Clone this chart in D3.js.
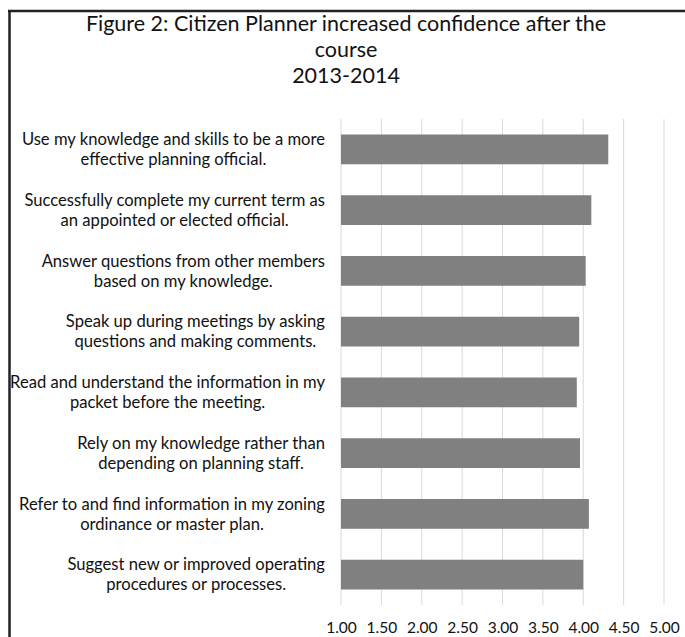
<!DOCTYPE html>
<html>
<head>
<meta charset="utf-8">
<script src="https://cdn.jsdelivr.net/npm/d3@7/dist/d3.min.js"></script>
<style>
  html, body { margin: 0; padding: 0; background: #fff; }
  svg { display: block; }
  text { font-family: Lato, "Open Sans", sans-serif; fill: #111; }
</style>
</head>
<body>
<svg id="chart" width="685" height="637"></svg>
<script>
const titleLines = ["Figure 2: Citizen Planner increased confidence after the", "course", "2013-2014"];
const categories = [
  ["Use my knowledge and skills to be a more", "effective planning official."],
  ["Successfully complete my current term as", "an appointed or elected official."],
  ["Answer questions from other members", "based on my knowledge."],
  ["Speak up during meetings by asking", "questions and making comments."],
  ["Read and understand the information in my", "packet before the meeting."],
  ["Rely on my knowledge rather than", "depending on planning staff."],
  ["Refer to and find information in my zoning", "ordinance or master plan."],
  ["Suggest new or improved operating", "procedures or processes."]
];
const values = [4.31, 4.10, 4.03, 3.95, 3.92, 3.96, 4.07, 4.00];
const tickValues = [1.00, 1.50, 2.00, 2.50, 3.00, 3.50, 4.00, 4.50, 5.00];

const svg = d3.select("#chart");
const W = 685, H = 637;
const plot = { left: 341, right: 664, top: 119, bottom: 605 };

// frame
svg.append("line").attr("x1", 8).attr("x2", W).attr("y1", 11).attr("y2", 11)
  .attr("stroke", "#222").attr("stroke-width", 2.5);
svg.append("line").attr("x1", 9.5).attr("x2", 9.5).attr("y1", 10).attr("y2", H)
  .attr("stroke", "#222").attr("stroke-width", 2.5);

// title
const titleY = [31, 57, 83];
svg.append("g").selectAll("text").data(titleLines).join("text")
  .attr("x", 346).attr("y", (d, i) => titleY[i])
  .attr("text-anchor", "middle")
  .style("font-size", "21.5px")
  .text(d => d);

const x = d3.scaleLinear().domain([1, 5]).range([plot.left, plot.right]);
const y = d3.scaleBand().domain(d3.range(categories.length))
  .range([plot.top, plot.bottom]).paddingInner(0.51).paddingOuter(0.255);

// gridlines
svg.append("g").selectAll("line").data(tickValues).join("line")
  .attr("x1", d => x(d)).attr("x2", d => x(d))
  .attr("y1", plot.top).attr("y2", plot.bottom)
  .attr("stroke", "#d9d9d9").attr("stroke-width", 1);

// bars
svg.append("g").selectAll("rect").data(values).join("rect")
  .attr("x", x(1))
  .attr("y", (d, i) => y(i))
  .attr("width", d => x(d) - x(1))
  .attr("height", y.bandwidth())
  .attr("fill", "#808080");

// x axis labels
const xAxis = d3.axisBottom(x).tickValues(tickValues).tickFormat(d3.format(".2f")).tickSize(0).tickPadding(0);
const ax = svg.append("g").attr("transform", `translate(0, ${plot.bottom})`).call(xAxis);
ax.select(".domain").remove();
ax.selectAll("text").attr("dy", null).attr("y", 28)
  .style("font-size", "15.5px").style("font-family", "Lato, sans-serif").attr("fill", "#111");

// category labels
const labelRight = 325;
const lineH = 20;
const lg = svg.append("g");
categories.forEach((lines, i) => {
  const cy = y(i) + y.bandwidth() / 2;
  const g = lg.append("g");
  const texts = g.selectAll("text").data(lines).join("text")
    .attr("y", (d, j) => cy + (j - (lines.length - 1) / 2) * lineH)
    .attr("dy", "0.35em")
    .attr("text-anchor", "middle")
    .style("font-size", "16.6px")
    .text(d => d);
  let maxW = 0;
  texts.each(function () { maxW = Math.max(maxW, this.getComputedTextLength()); });
  texts.attr("x", labelRight - maxW / 2);
});
</script>
</body>
</html>
